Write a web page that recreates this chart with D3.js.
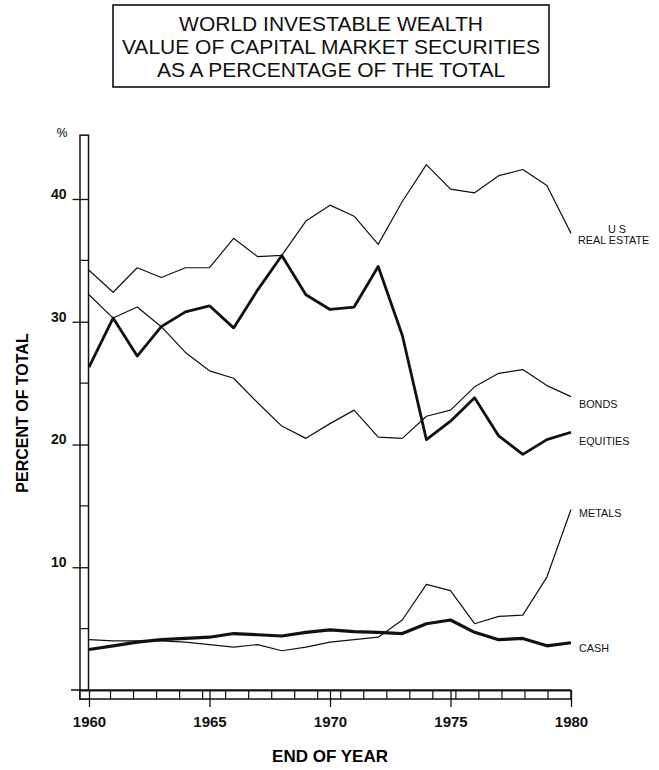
<!DOCTYPE html>
<meta charset="utf-8">
<script src="https://d3js.org/d3.v7.min.js"></script>
<style type="text/css">
body { margin: 0; background: #fff; }
svg { display: block; font-family: "Liberation Sans", Arial, sans-serif; }
.titulo text { font-size: 21px; fill: #111; }
.eixo text { font-size: 15px; font-weight: bold; fill: #111; }
.eixo line { stroke: #111; stroke-width: 1.3; }
.rotulo { font-size: 10.8px; fill: #111; }
.serie { fill: none; stroke: #111; stroke-linejoin: round; }
</style>
<body>
<div id="canvas"></div>
<script>

	// anos (fim de ano) e valores em % do total
	var years = d3.range(1960, 1981);

	var realEstate = [34.2, 32.4, 34.4, 33.6, 34.4, 34.4, 36.8, 35.3, 35.4, 38.2, 39.5,
		38.6, 36.3, 39.8, 42.8, 40.8, 40.5, 41.9, 42.4, 41.1, 37.2];
	var bonds = [32.2, 30.3, 31.2, 29.6, 27.5, 26.0, 25.4, 23.4, 21.5, 20.5, 21.7,
		22.8, 20.6, 20.5, 22.3, 22.8, 24.7, 25.8, 26.1, 24.8, 23.9];
	var equities = [26.3, 30.3, 27.2, 29.6, 30.8, 31.3, 29.5, 32.6, 35.4, 32.2, 31.0,
		31.2, 34.5, 28.9, 20.4, 21.9, 23.8, 20.7, 19.2, 20.4, 21.0];
	var metals = [4.1, 4.0, 4.0, 4.0, 3.9, 3.7, 3.5, 3.7, 3.2, 3.5, 3.9,
		4.1, 4.3, 5.7, 8.6, 8.1, 5.4, 6.0, 6.1, 9.2, 14.7];
	var cash = [3.3, 3.6, 3.9, 4.1, 4.2, 4.3, 4.6, 4.5, 4.4, 4.7, 4.9,
		4.75, 4.7, 4.6, 5.4, 5.7, 4.7, 4.1, 4.2, 3.6, 3.85];

	var seriesNames = [["U S", "REAL ESTATE"], ["BONDS"], ["EQUITIES"], ["METALS"], ["CASH"]];
	var seriesValues = [realEstate, bonds, equities, metals, cash];
	var yTicks = [10, 20, 30, 40];
	var xTicks = [1960, 1965, 1970, 1975, 1980];
	var titleLines = ["WORLD INVESTABLE WEALTH", "VALUE OF CAPITAL MARKET SECURITIES", "AS A PERCENTAGE OF THE TOTAL"];

	// estilo de cada serie (espessura) e deslocamento do rotulo
	var strokeW = [1.2, 1.2, 2.8, 1.2, 3.2];
	var labelDy = [1, 11, 12.5, 7, 9];

	var width = 659;
	var height = 770;

	var svg = d3.select('#canvas')
		.append("svg")
		.attr("width", width)
		.attr("height", height);

	var x = d3.scaleLinear()
		.domain([1960, 1980])
		.range([89, 571]);

	var y = d3.scaleLinear()
		.domain([0, 40])
		.range([690, 199]);

	// titulo ---------------------------------------------------------------
	var t = svg.append("g").attr("class", "titulo");
	t.append("rect")
		.attr("x", 113).attr("y", 5)
		.attr("width", 436).attr("height", 82)
		.style("fill", "none").style("stroke", "#111").style("stroke-width", 1.6);
	t.selectAll("text")
		.data(titleLines)
		.enter().append("text")
		.attr("x", 331)
		.attr("y", function(d, i) { return 31 + i * 23; })
		.attr("text-anchor", "middle")
		.text(function(d) { return d; });

	// barra vertical (eixo y) -------------------------------------------------
	var barL = 80, barR = 88.5;
	svg.append("rect")
		.attr("x", barL).attr("y", y(45.2))
		.attr("width", barR - barL).attr("height", 699 - y(45.2))
		.style("fill", "#fff").style("stroke", "#111").style("stroke-width", 1.5);

	svg.selectAll(".div5")
		.data([5, 15, 25, 35])
		.enter().append("line")
		.attr("x1", barL).attr("x2", barR)
		.attr("y1", function(d) { return y(d); })
		.attr("y2", function(d) { return y(d); })
		.style("stroke", "#111").style("stroke-width", 1.2);

	var yAxis = d3.axisLeft(y)
		.tickValues(yTicks)
		.tickSize(16)
		.tickPadding(6)
		.tickFormat(d3.format("d"));

	svg.append("g")
		.attr("class", "eixo")
		.attr("transform", "translate(" + barR + ",0)")
		.call(yAxis)
		.call(function(g) { g.select(".domain").remove(); })
		.call(function(g) { g.selectAll("text").attr("dy", "-0.05em").style("font-size", "14px"); });

	svg.append("text")
		.attr("x", 62).attr("y", 137)
		.attr("text-anchor", "middle")
		.style("font-size", "12px")
		.text("%");

	// faixa do eixo x ---------------------------------------------------------
	svg.append("rect")
		.attr("x", barL).attr("y", 690.7)
		.attr("width", 571 - barL).attr("height", 8.3)
		.style("fill", "#fff").style("stroke", "#111").style("stroke-width", 1.5);

	svg.append("line")
		.attr("x1", 71).attr("x2", 571)
		.attr("y1", y(0)).attr("y2", y(0))
		.style("stroke", "#111").style("stroke-width", 1.3);

	var cell = d3.scaleLinear().domain([0, 21]).range([87.5, 571]);
	svg.selectAll(".cel")
		.data(d3.range(1, 21))
		.enter().append("line")
		.attr("x1", function(d) { return cell(d); })
		.attr("x2", function(d) { return cell(d); })
		.attr("y1", 690.7).attr("y2", 699)
		.style("stroke", "#111").style("stroke-width", 1.2);

	var xAxis = d3.axisBottom(x)
		.tickValues(xTicks)
		.tickSize(17)
		.tickPadding(9)
		.tickFormat(d3.format("d"));

	svg.append("g")
		.attr("class", "eixo")
		.attr("transform", "translate(0," + y(0) + ")")
		.call(xAxis)
		.call(function(g) { g.select(".domain").remove(); });

	// linhas -----------------------------------------------------------------
	var line = d3.line()
		.x(function(d, i) { return x(years[i]); })
		.y(function(d) { return y(d); });

	seriesValues.forEach(function(values, i) {
		svg.append("path")
			.attr("class", "serie")
			.attr("d", line(values))
			.style("stroke-width", strokeW[i]);

		var last = values[values.length - 1];
		var lbl = svg.append("text")
			.attr("class", "rotulo")
			.attr("x", x(1980) + 8)
			.attr("y", y(last) + labelDy[i]);
		if (seriesNames[i].length > 1) {
			lbl.append("tspan").attr("x", x(1980) + 46).attr("dy", -1).attr("text-anchor", "middle").text(seriesNames[i][0]);
			lbl.append("tspan").attr("x", x(1980) + 7).attr("dy", 11).text(seriesNames[i][1]);
		} else {
			lbl.text(seriesNames[i][0]);
		}
	});

	// titulos dos eixos ---------------------------------------------------------
	svg.append("text")
		.attr("transform", "translate(27.5,413) rotate(-90)")
		.attr("text-anchor", "middle")
		.style("font-size", "16px")
		.style("font-weight", "bold")
		.text("PERCENT OF TOTAL");

	svg.append("text")
		.attr("x", 330).attr("y", 762)
		.attr("text-anchor", "middle")
		.style("font-size", "17px")
		.style("font-weight", "bold")
		.text("END OF YEAR");
</script>
</body>
